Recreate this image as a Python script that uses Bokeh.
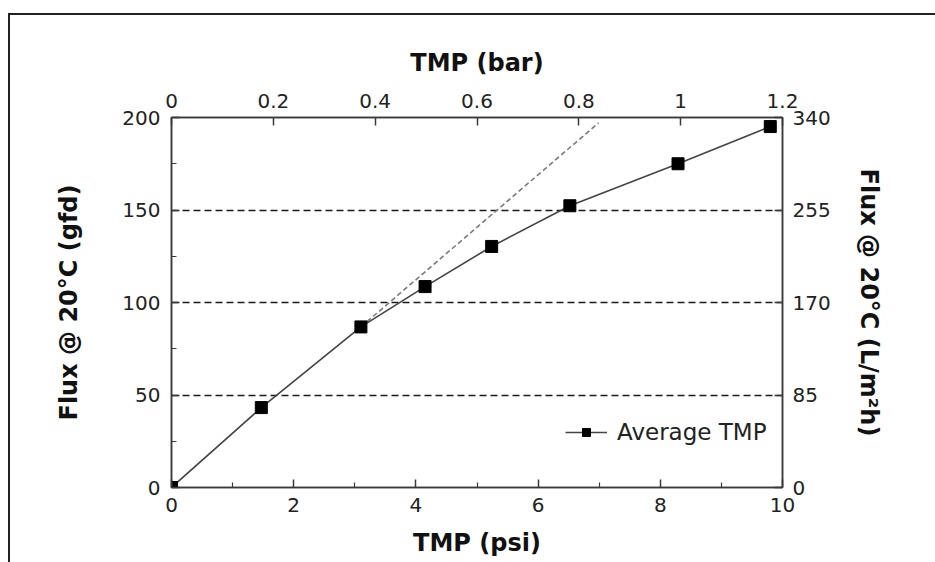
from bokeh.plotting import figure
from bokeh.models import (Range1d, LinearAxis, FixedTicker, CustomJSTickFormatter,
                          Legend, LegendItem)
from bokeh.embed import file_html
from bokeh.resources import INLINE

# ---- data ----
psi = [0, 1.47, 3.10, 4.15, 5.24, 6.52, 8.29, 9.80]
gfd = [0, 43.2, 86.8, 108.6, 130.3, 152.3, 175.0, 195.1]
dash_psi = [3.10, 6.99]
dash_gfd = [86.8, 197.1]

psi_ticks = [0, 2, 4, 6, 8, 10]
psi_minor = [1, 3, 5, 7, 9]
bar_ticks = [0, 0.2, 0.4, 0.6, 0.8, 1.0, 1.2]
gfd_ticks = [0, 50, 100, 150, 200]
gfd_minor = [25, 75, 125, 175]
lmh_ticks = [0, 85, 170, 255, 340]
grid_levels = [50, 100, 150]

FONT = "DejaVu Sans"
AX = "#3a3a3a"

p = figure(width=935, height=562, x_range=Range1d(0, 10), y_range=Range1d(0, 200),
           output_backend="svg", toolbar_location=None,
           min_border_left=171, min_border_right=153, min_border_top=117,
           min_border_bottom=75)
p.border_fill_alpha = 0
p.background_fill_color = "white"
# outer picture frame (top and left lines), drawn behind the transparent canvas border
p.styles = {
    "background-color": "white",
    "background-image": "linear-gradient(#222, #222), linear-gradient(#222, #222)",
    "background-size": "2px 100%, 100% 2px",
    "background-position": "8px 13px, 8px 13px",
    "background-repeat": "no-repeat",
}

p.extra_x_ranges = {"bar": Range1d(0, 1.2)}
p.extra_y_ranges = {"lmh": Range1d(0, 340)}

bottom = p.below[0]
left = p.left[0]
bottom.ticker = FixedTicker(ticks=psi_ticks, minor_ticks=psi_minor)
left.ticker = FixedTicker(ticks=gfd_ticks, minor_ticks=gfd_minor)
bottom.axis_label = "TMP (psi)"
left.axis_label = "Flux @ 20°C (gfd)"

top = LinearAxis(x_range_name="bar", ticker=FixedTicker(ticks=bar_ticks),
                 formatter=CustomJSTickFormatter(code="return tick.toString();"),
                 axis_label="TMP (bar)")
right = LinearAxis(y_range_name="lmh", ticker=FixedTicker(ticks=lmh_ticks),
                   axis_label="Flux @ 20°C (L/m²h)")
p.add_layout(top, "above")
p.add_layout(right, "right")

for ax in [bottom, left, top, right]:
    ax.axis_line_color = AX
    ax.axis_line_width = 1.5
    ax.major_tick_in = 8
    ax.major_tick_out = 0
    ax.minor_tick_in = 5
    ax.minor_tick_out = 0
    ax.major_tick_line_color = AX
    ax.major_tick_line_width = 1.5
    ax.minor_tick_line_color = AX
    ax.minor_tick_line_width = 1.2
    ax.major_label_text_font = FONT
    ax.major_label_text_font_size = "20px"
    ax.major_label_text_color = "#222"
    ax.axis_label_text_font = FONT
    ax.axis_label_text_font_style = "bold"
    ax.axis_label_text_font_size = "24px"
    ax.axis_label_text_color = "#111"

bottom.major_label_standoff = 10
bottom.axis_label_standoff = 14
top.major_label_standoff = 10
top.axis_label_standoff = 14
left.major_label_standoff = 11
left.axis_label_standoff = 36
right.major_label_standoff = 10
right.axis_label_standoff = 21

p.xgrid.visible = False
p.ygrid.ticker = FixedTicker(ticks=grid_levels)
p.ygrid.grid_line_color = "#1a1a1a"
p.ygrid.grid_line_dash = "7 4"
p.ygrid.grid_line_width = 1.3

p.outline_line_color = AX
p.outline_line_width = 1.5

p.line(dash_psi, dash_gfd, line_color="#7a7a7a", line_width=1.6, line_dash="5 3")
r_line = p.line(psi, gfd, line_color="#444444", line_width=1.6)
r_sq = p.scatter(psi, gfd, marker="square", size=12, fill_color="black", line_color="black")

legend = Legend(items=[LegendItem(label="Average TMP", renderers=[r_line, r_sq])],
                location=(394, 42), border_line_color=None, background_fill_alpha=0,
                padding=0, margin=0, glyph_width=42, glyph_height=20, label_standoff=10,
                label_text_font=FONT, label_text_font_size="23px", label_text_color="#222",
                label_height=20, spacing=0)
p.add_layout(legend)

with open("out.html", "w") as f:
    f.write(file_html(p, INLINE))
